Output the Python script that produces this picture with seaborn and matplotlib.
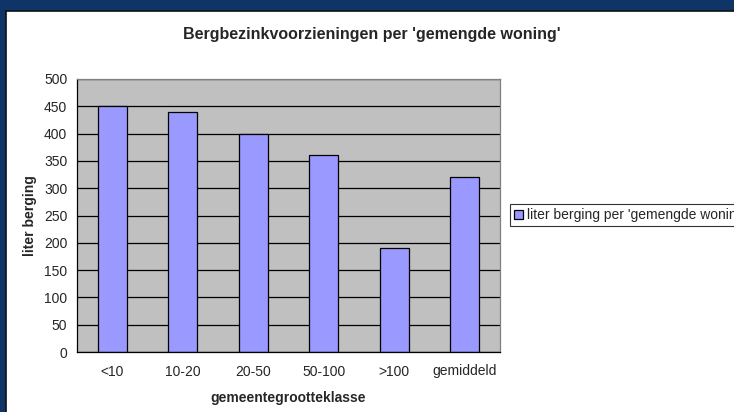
import matplotlib
matplotlib.use('Agg')
import matplotlib.pyplot as plt
import seaborn as sns
import pandas as pd
from matplotlib.patches import Rectangle

# data
categories = ['<10', '10-20', '20-50', '50-100', '>100', 'gemiddeld']
liter_berging = [450, 440, 400, 360, 190, 320]
series_name = "liter berging per 'gemengde woning'"

df = pd.DataFrame({'klasse': categories, 'liter': liter_berging})

sns.set_style('white')
plt.rcParams['font.family'] = ['Liberation Sans', 'DejaVu Sans']

W, H = 734, 412
fig = plt.figure(figsize=(W / 100, H / 100), dpi=100)
fig.patch.set_facecolor('#0f3468')

# white chart area on the dark slide background
fig.patches.append(Rectangle((6 / W, -0.01), 1.0, (H - 11) / H + 0.01,
                             transform=fig.transFigure, facecolor='white',
                             edgecolor='#111111', linewidth=1.2, zorder=-5))

ax = fig.add_axes([77 / W, (H - 352) / H, 423 / W, 273 / H])
ax.set_facecolor('#c0c0c0')

sns.barplot(data=df, x='klasse', y='liter', color='#9999ff', width=0.41,
            edgecolor='black', linewidth=0.9, saturation=1, ax=ax,
            label=series_name)

ax.set_ylim(0, 500)
ax.set_xlim(-0.5, len(categories) - 0.5)
ax.set_yticks(range(0, 501, 50))
ax.yaxis.grid(True, color='black', linewidth=0.9)
ax.set_axisbelow(True)

for s in ['top', 'right']:
    ax.spines[s].set_color('#808080')
    ax.spines[s].set_linewidth(0.9)
for s in ['left', 'bottom']:
    ax.spines[s].set_color('black')
    ax.spines[s].set_linewidth(0.9)

ax.tick_params(axis='y', direction='out', length=5, width=0.8, color='black',
               labelsize=10, pad=2)
ax.tick_params(axis='x', which='major', length=0, labelsize=10, pad=9)
ax.set_xticks([i + 0.5 for i in range(-1, len(categories))], minor=True)
ax.tick_params(axis='x', which='minor', direction='out', length=4, width=0.8,
               color='black')

ax.set_xlabel('gemeentegrootteklasse', fontsize=10, fontweight='bold', labelpad=9)
ax.set_ylabel('liter berging', fontsize=10, fontweight='bold', labelpad=5)

fig.text(372 / W, 1 - 35 / H, "Bergbezinkvoorzieningen per 'gemengde woning'",
         ha='center', va='center', fontsize=11.5, fontweight='bold')

leg = ax.legend(loc='center left', bbox_to_anchor=(510 / W, 1 - 215 / H),
                bbox_transform=fig.transFigure, fontsize=10, frameon=True,
                fancybox=False, borderpad=0.3, handlelength=0.6,
                handleheight=0.6, handletextpad=0.35, borderaxespad=0)
leg.get_frame().set_edgecolor('black')
leg.get_frame().set_linewidth(0.8)

fig.savefig('out.png', dpi=100, facecolor=fig.get_facecolor())
